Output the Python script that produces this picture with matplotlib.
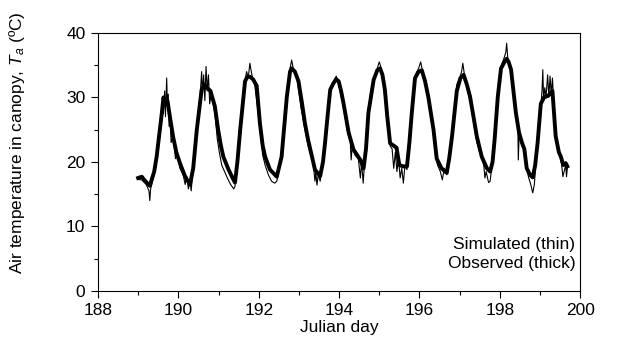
import numpy as np
import matplotlib
matplotlib.use("Agg")
import matplotlib.pyplot as plt
from matplotlib.ticker import MultipleLocator

plt.rcParams['font.family'] = ['Liberation Sans', 'DejaVu Sans']
plt.rcParams['mathtext.fontset'] = 'custom'
plt.rcParams['mathtext.rm'] = 'Liberation Sans'
plt.rcParams['mathtext.it'] = 'Liberation Sans:italic'

# Observed (thick line)
obs_day = [189.00, 189.09, 189.18, 189.29, 189.40, 189.46, 189.53, 189.59, 189.63, 189.68,
           189.73, 189.79, 189.87, 189.95, 190.04, 190.17, 190.29, 190.37, 190.46, 190.58,
           190.65, 190.71, 190.80, 190.91, 190.99, 191.06, 191.12, 191.25, 191.35, 191.41,
           191.47, 191.54, 191.66, 191.72, 191.78, 191.86, 191.95, 192.03, 192.10, 192.16,
           192.28, 192.45, 192.57, 192.70, 192.78, 192.82, 192.90, 192.99, 193.08, 193.15,
           193.23, 193.30, 193.40, 193.53, 193.60, 193.65, 193.72, 193.78, 193.86, 193.93,
           193.99, 194.05, 194.11, 194.24, 194.36, 194.53, 194.61, 194.67, 194.73, 194.86,
           194.95, 195.02, 195.08, 195.14, 195.20, 195.27, 195.43, 195.50, 195.60, 195.69,
           195.75, 195.81, 195.89, 195.98, 196.06, 196.14, 196.22, 196.35, 196.43, 196.55,
           196.68, 196.74, 196.81, 196.93, 197.02, 197.10, 197.18, 197.26, 197.43, 197.55,
           197.68, 197.76, 197.82, 197.87, 197.95, 198.03, 198.10, 198.17, 198.22, 198.28,
           198.40, 198.48, 198.55, 198.61, 198.67, 198.75, 198.82, 198.88, 198.94, 199.02,
           199.10, 199.18, 199.25, 199.31, 199.39, 199.47, 199.52, 199.58, 199.64, 199.68]
obs_temp = [17.5, 17.7, 17.0, 16.3, 18.5, 20.8, 24.5, 27.6, 30.0, 29.0,
            29.5, 27.0, 23.9, 21.5, 19.8, 17.7, 16.5, 19.0, 25.0, 31.2,
            32.0, 31.5, 31.0, 28.6, 25.0, 22.5, 20.8, 18.8, 17.5, 16.8,
            20.0, 25.0, 32.5, 33.2, 33.2, 32.8, 31.8, 26.0, 22.5, 20.8,
            18.8, 17.7, 20.8, 30.1, 34.0, 34.5, 34.0, 32.5, 29.0, 26.0,
            23.4, 21.5, 18.8, 17.8, 20.0, 22.9, 27.5, 31.2, 32.2, 32.8,
            32.5, 31.0, 29.1, 24.5, 21.9, 20.3, 19.0, 22.0, 27.6, 32.7,
            34.2, 34.5, 33.5, 31.2, 27.0, 22.9, 22.2, 19.5, 19.3, 19.3,
            23.0, 27.6, 33.0, 34.0, 34.2, 32.5, 30.1, 25.0, 20.5, 19.0,
            18.3, 20.5, 23.9, 31.0, 33.0, 33.5, 32.0, 30.1, 23.9, 20.8,
            19.0, 18.5, 20.0, 23.4, 30.1, 34.5, 35.3, 36.0, 35.5, 34.3,
            27.6, 24.5, 23.0, 22.0, 19.0, 18.0, 17.6, 19.5, 22.9, 29.0,
            30.0, 30.2, 30.5, 31.0, 24.0, 21.5, 20.8, 19.5, 19.8, 19.3]

# Simulated (thin line)
sim_day = [189.00, 189.09, 189.20, 189.27, 189.29, 189.31, 189.40, 189.50, 189.58, 189.61,
           189.63, 189.66, 189.68, 189.71, 189.73, 189.75, 189.77, 189.79, 189.82, 189.87,
           189.93, 189.97, 190.04, 190.12, 190.17, 190.21, 190.25, 190.29, 190.32, 190.36,
           190.46, 190.55, 190.58, 190.60, 190.63, 190.66, 190.69, 190.72, 190.75, 190.78,
           190.82, 190.91, 190.97, 191.02, 191.08, 191.15, 191.22, 191.30, 191.38, 191.41,
           191.47, 191.54, 191.64, 191.70, 191.74, 191.78, 191.83, 191.90, 191.96, 192.03,
           192.10, 192.16, 192.24, 192.32, 192.40, 192.45, 192.50, 192.57, 192.70, 192.78,
           192.82, 192.86, 192.95, 193.05, 193.15, 193.23, 193.30, 193.36, 193.40, 193.42,
           193.45, 193.48, 193.53, 193.58, 193.65, 193.72, 193.80, 193.86, 193.93, 193.99,
           194.06, 194.11, 194.20, 194.28, 194.30, 194.33, 194.40, 194.48, 194.53, 194.56,
           194.60, 194.63, 194.70, 194.78, 194.86, 194.95, 195.00, 195.05, 195.12, 195.20,
           195.27, 195.32, 195.36, 195.40, 195.44, 195.48, 195.52, 195.56, 195.60, 195.64,
           195.69, 195.75, 195.82, 195.90, 195.98, 196.03, 196.08, 196.15, 196.22, 196.30,
           196.35, 196.40, 196.45, 196.52, 196.57, 196.62, 196.68, 196.75, 196.83, 196.93,
           197.00, 197.05, 197.08, 197.12, 197.20, 197.28, 197.36, 197.43, 197.50, 197.55,
           197.60, 197.63, 197.66, 197.72, 197.76, 197.82, 197.88, 197.96, 198.04, 198.10,
           198.15, 198.17, 198.20, 198.26, 198.33, 198.40, 198.45, 198.46, 198.48, 198.55,
           198.60, 198.65, 198.72, 198.77, 198.82, 198.86, 198.90, 198.96, 199.02, 199.05,
           199.07, 199.09, 199.12, 199.15, 199.19, 199.22, 199.25, 199.28, 199.31, 199.36,
           199.42, 199.50, 199.54, 199.57, 199.60, 199.64, 199.66, 199.68]
sim_temp = [17.3, 17.2, 16.5, 15.5, 14.0, 15.8, 18.0, 23.5, 28.0, 29.5,
            27.5, 31.0, 27.0, 33.0, 28.5, 30.5, 25.5, 27.5, 23.0, 24.0,
            20.5, 21.5, 19.0, 18.0, 16.5, 17.8, 15.8, 17.0, 15.5, 18.5,
            25.5, 31.0, 34.0, 30.5, 33.5, 29.5, 34.8, 31.0, 33.5, 29.0,
            30.5, 27.5, 23.5, 21.5, 19.5, 18.5, 17.5, 16.5, 15.8, 16.2,
            21.0, 26.0, 32.0, 34.0, 33.0, 35.3, 33.5, 32.0, 29.0, 25.0,
            21.0, 19.5, 18.0, 17.0, 16.7, 17.0, 18.5, 21.5, 31.0, 34.5,
            35.8, 34.5, 33.0, 28.5, 25.0, 22.5, 21.0, 19.5, 17.0, 18.5,
            16.4, 18.0, 17.0, 19.5, 23.5, 28.0, 31.5, 32.5, 33.3, 32.0,
            30.0, 28.5, 25.0, 23.0, 20.3, 22.5, 21.0, 20.5, 17.5, 20.0,
            16.7, 19.5, 25.0, 30.5, 33.0, 34.5, 35.5, 34.5, 31.0, 26.5,
            22.5, 22.0, 19.0, 21.5, 18.5, 20.5, 17.5, 19.0, 16.7, 19.5,
            18.8, 23.5, 28.5, 33.5, 34.5, 35.5, 34.0, 32.0, 29.5, 26.5,
            24.0, 21.0, 19.5, 18.5, 17.2, 19.0, 18.0, 21.0, 25.0, 32.0,
            33.0, 34.0, 35.3, 33.5, 31.0, 29.0, 25.5, 23.0, 21.5, 21.0,
            19.5, 17.5, 18.5, 16.8, 17.0, 20.5, 24.0, 30.5, 35.0, 36.0,
            37.0, 38.4, 36.0, 34.5, 31.0, 27.5, 25.0, 20.3, 24.0, 22.5,
            22.0, 19.5, 17.5, 16.5, 15.2, 16.5, 20.0, 23.5, 28.5, 31.0,
            34.3, 29.5, 31.5, 30.0, 33.5, 30.0, 33.3, 30.5, 33.0, 27.0,
            23.0, 21.0, 19.5, 17.7, 18.5, 19.5, 17.7, 19.0]

fig = plt.figure(figsize=(6.32, 3.5), dpi=100)
ax = fig.add_axes([0.155, 0.169, 0.763, 0.737])

ax.plot(obs_day, obs_temp, color='black', linewidth=2.8, solid_joinstyle='round')
ax.plot(sim_day, sim_temp, color='black', linewidth=0.8)

ax.set_xlim(188, 200)
ax.set_ylim(0, 40)
ax.xaxis.set_major_locator(MultipleLocator(2))
ax.xaxis.set_minor_locator(MultipleLocator(1))
ax.yaxis.set_major_locator(MultipleLocator(10))
ax.yaxis.set_minor_locator(MultipleLocator(5))
ax.tick_params(which='both', direction='out', labelsize=12.5, width=0.8)
ax.tick_params(which='major', length=5, pad=4)
ax.tick_params(which='minor', length=3)
for s in ax.spines.values():
    s.set_linewidth(0.8)

ax.set_xlabel('Julian day', fontsize=12.5, labelpad=1)
ax.set_ylabel('Air temperature in canopy, $T_a$ (ºC)', fontsize=12.5)
ax.yaxis.set_label_coords(-0.147, 0.574)

ax.text(0.99, 0.178, 'Simulated (thin)', transform=ax.transAxes, ha='right', va='center', fontsize=12.5)
ax.text(0.99, 0.105, 'Observed (thick)', transform=ax.transAxes, ha='right', va='center', fontsize=12.5)

plt.savefig('out.png', dpi=100)
